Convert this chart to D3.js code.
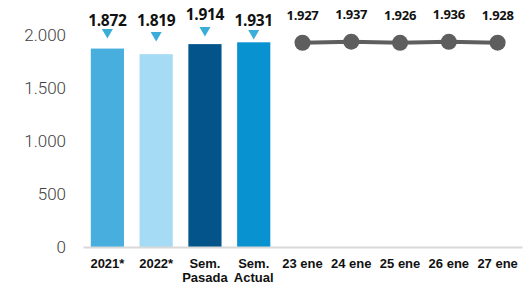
<!DOCTYPE html>
<html><head><meta charset="utf-8">
<script src="https://cdn.jsdelivr.net/npm/d3@7"></script>
<style>body{margin:0;background:#fff}svg{display:block}</style>
</head><body><svg id="c" width="531" height="286"></svg>
<script>
const barCategories = ["2021*", "2022*", "Sem.\nPasada", "Sem.\nActual"];
const barValues = [1872, 1819, 1914, 1931];
const barColors = ["#47AEDE", "#A5DBF5", "#02548A", "#0892D0"];
const lineCategories = ["23 ene", "24 ene", "25 ene", "26 ene", "27 ene"];
const lineValues = [1927, 1937, 1926, 1936, 1928];
const yTicks = [0, 500, 1000, 1500, 2000];

const svg = d3.select("#c");
const allCats = barCategories.concat(lineCategories);
const x = d3.scaleBand().domain(allCats).range([83, 522]).paddingInner(0.32).paddingOuter(0.16);
const y = d3.scaleLinear().domain([0, 2000]).range([247, 35]);
const fmt = v => d3.format(",")(v).replace(/,/g, ".");

// y axis labels
const yAxis = d3.axisLeft(y).tickValues(yTicks).tickSize(0).tickPadding(0).tickFormat(fmt);
const gy = svg.append("g").attr("transform", "translate(66,0)").call(yAxis);
gy.select(".domain").remove();
gy.selectAll("text").attr("font-family", "Roboto").attr("font-weight", 300)
  .attr("font-size", 17).attr("fill", "#404040").attr("dy", "0.35em");

// bars
svg.selectAll("rect.bar").data(barValues).join("rect").attr("class", "bar")
  .attr("x", (d, i) => x(barCategories[i])).attr("width", x.bandwidth())
  .attr("y", d => y(d)).attr("height", d => y(0) - y(d))
  .attr("fill", (d, i) => barColors[i]);

// x axis
const xAxis = d3.axisBottom(x).tickSize(0).tickFormat("");
const gx = svg.append("g").attr("transform", `translate(0,${y(0)})`).call(xAxis);
gx.select(".domain").attr("stroke", "#D9D9D9").attr("stroke-width", 2);
gx.selectAll(".tick").each(function(d) {
  const lines = d.split("\n");
  const t = d3.select(this).append("text").attr("text-anchor", "middle")
    .attr("font-family", "Liberation Sans, Arial").attr("font-weight", "bold")
    .attr("font-size", 13).attr("fill", "#111");
  lines.forEach((l, k) => t.append("tspan").attr("x", 0).attr("y", 21 + k * 13.5).text(l));
});

// bar value labels and triangles
const labelOffsets = [0, 0, -6, 0];
svg.selectAll("text.bv").data(barValues).join("text").attr("class", "bv")
  .attr("x", (d, i) => x(barCategories[i]) + x.bandwidth() / 2)
  .attr("y", (d, i) => 26 + labelOffsets[i])
  .attr("text-anchor", "middle").attr("font-family", "Open Sans").attr("font-weight", "bold")
  .attr("font-size", 15.5).attr("letter-spacing", -0.3).attr("fill", "#111").text(fmt);
const triOffsets = [0, 3, -2, 1];
svg.selectAll("path.tri").data(barValues).join("path").attr("class", "tri")
  .attr("transform", (d, i) => `translate(${x(barCategories[i]) + x.bandwidth() / 2},${29 + triOffsets[i]})`)
  .attr("d", "M-5.5,0L5.5,0L0,9.5Z").attr("fill", "#3AAED8");

// line
const lx = c => x(c) + x.bandwidth() / 2;
svg.append("path").datum(lineValues)
  .attr("d", d3.line().x((d, i) => lx(lineCategories[i])).y(d => y(d)))
  .attr("fill", "none").attr("stroke", "#5E5E5E").attr("stroke-width", 4);
svg.selectAll("circle.pt").data(lineValues).join("circle").attr("class", "pt")
  .attr("cx", (d, i) => lx(lineCategories[i])).attr("cy", d => y(d)).attr("r", 8)
  .attr("fill", "#5E5E5E");
svg.selectAll("text.lv").data(lineValues).join("text").attr("class", "lv")
  .attr("x", (d, i) => lx(lineCategories[i])).attr("y", d => y(d) - 23)
  .attr("text-anchor", "middle").attr("font-family", "Open Sans").attr("font-weight", "bold")
  .attr("font-size", 13).attr("letter-spacing", -0.3).attr("fill", "#111").text(fmt);
</script></body></html>
